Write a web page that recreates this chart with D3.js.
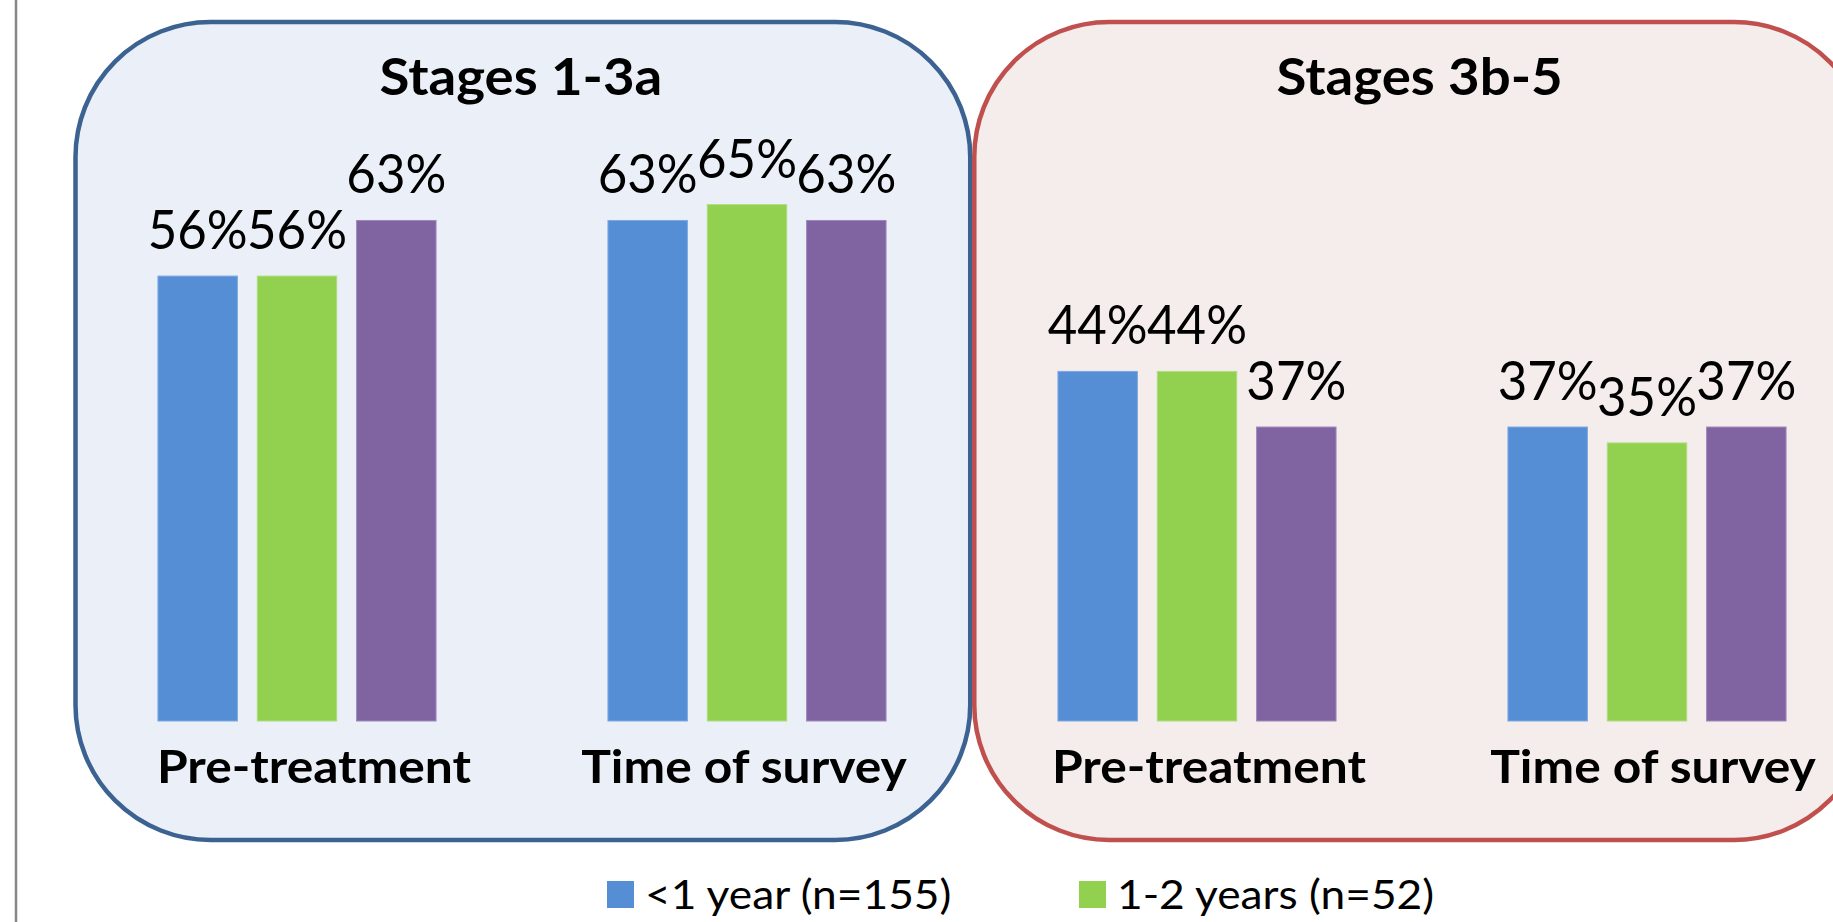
<!DOCTYPE html>
<html>
<head>
<meta charset="utf-8">
<script src="https://cdn.jsdelivr.net/npm/d3@7"></script>
<style>
  html, body { margin: 0; padding: 0; background: #ffffff; overflow: hidden; }
  svg { display: block; }
</style>
</head>
<body>
<svg id="chart" width="1833" height="922"></svg>
<script>
// Stage panels and the two time points inside each
const panels = ["Stages 1-3a", "Stages 3b-5"];
const periods = ["Pre-treatment", "Time of survey"];
const seriesKeys = ["s1", "s2", "s3"];
const legendLabels = ["<1 year (n=155)", "1-2 years (n=52)"];

// Percentages per series (s1, s2, s3)
const stages13aPre = [56, 56, 63];
const stages13aSurvey = [63, 65, 63];
const stages3b5Pre = [44, 44, 37];
const stages3b5Survey = [37, 35, 37];

const seriesColors = ["#558ED5", "#92D050", "#8064A2"];
const seriesEdges = ["#7EA9E0", "#B0DE82", "#9E88BC"];
const panelFill = ["#EBF0F8", "#F5ECEC"];
const panelStroke = ["#3B6291", "#C0504D"];
// Horizontal nudge of each group's caption relative to its bars
const captionShift = [17, -3, 12, 6];

const groups = [
  { panel: panels[0], period: periods[0], values: stages13aPre },
  { panel: panels[0], period: periods[1], values: stages13aSurvey },
  { panel: panels[1], period: periods[0], values: stages3b5Pre },
  { panel: panels[1], period: periods[1], values: stages3b5Survey }
];
groups.forEach((g, i) => { g.key = "g" + i; g.idx = i; });

const svg = d3.select("#chart");
const font = "Lato, 'Open Sans', sans-serif";

// Scales
const x0 = d3.scaleBand()
  .domain(groups.map(g => g.key))
  .range([72, 1872])
  .paddingInner(0.382)
  .paddingOuter(0.191);

const x1 = d3.scaleBand()
  .domain(seriesKeys)
  .range([0, x0.bandwidth()])
  .paddingInner(0.2)
  .paddingOuter(0);

const y = d3.scaleLinear().domain([0, 70]).range([721, 721 - 70 * 7.945]);

const panelScale = d3.scaleBand().domain(panels).range([75.5, 1869]).paddingInner(0.0045);

// Thin gray rule on the far left
svg.append("line")
  .attr("x1", 16).attr("x2", 16)
  .attr("y1", 0).attr("y2", 922)
  .attr("stroke", "#868686")
  .attr("stroke-width", 2.5);

// Rounded panel frames
svg.selectAll("rect.panel")
  .data(panels)
  .join("rect")
  .attr("class", "panel")
  .attr("x", d => panelScale(d))
  .attr("y", 22)
  .attr("width", panelScale.bandwidth())
  .attr("height", 818)
  .attr("rx", 135).attr("ry", 135)
  .attr("fill", (d, i) => panelFill[i])
  .attr("stroke", (d, i) => panelStroke[i])
  .attr("stroke-width", 4.5);

// Panel titles (slightly widened to a Calibri-like proportion)
svg.selectAll("text.panel-title")
  .data(panels)
  .join("text")
  .attr("class", "panel-title")
  .attr("transform", d => `translate(${panelScale(d) + panelScale.bandwidth() / 2 - 2},95) scale(1.05,1)`)
  .attr("text-anchor", "middle")
  .attr("font-family", font)
  .attr("font-weight", 700)
  .attr("font-size", 52)
  .attr("fill", "#000")
  .text(d => d);

// Bars
const gGroups = svg.selectAll("g.group")
  .data(groups)
  .join("g")
  .attr("class", "group")
  .attr("transform", d => `translate(${x0(d.key)},0)`);

gGroups.selectAll("rect.bar")
  .data(d => d.values.map((v, i) => ({ key: seriesKeys[i], v, i })))
  .join("rect")
  .attr("class", "bar")
  .attr("x", d => x1(d.key))
  .attr("y", d => y(d.v))
  .attr("width", x1.bandwidth())
  .attr("height", d => y(0) - y(d.v))
  .attr("fill", d => seriesColors[d.i])
  .attr("stroke", d => seriesEdges[d.i])
  .attr("stroke-width", 1);

// Value labels
gGroups.selectAll("text.value")
  .data(d => d.values.map((v, i) => ({ key: seriesKeys[i], v, i })))
  .join("text")
  .attr("class", "value")
  .attr("transform", d => `translate(${x1(d.key) + x1.bandwidth() / 2},${y(d.v) - 27}) scale(0.98,1.04)`)
  .attr("text-anchor", "middle")
  .attr("font-family", font)
  .attr("font-size", 52)
  .attr("fill", "#000")
  .text(d => d.v + "%");

// Category labels under each group
gGroups.append("text")
  .attr("transform", d => `translate(${x0.bandwidth() / 2 + captionShift[d.idx]},783) scale(1.07,1)`)
  .attr("text-anchor", "middle")
  .attr("font-family", font)
  .attr("font-weight", 700)
  .attr("font-size", 46.5)
  .attr("fill", "#000")
  .text(d => d.period);

// Legend
const legendX = d3.scalePoint().domain(legendLabels).range([607, 1079]);
const lg = svg.selectAll("g.legend")
  .data(legendLabels)
  .join("g")
  .attr("class", "legend")
  .attr("transform", d => `translate(${legendX(d)},881)`);

lg.append("rect")
  .attr("width", 27).attr("height", 27)
  .attr("fill", (d, i) => seriesColors[i]);

lg.append("text")
  .attr("transform", "translate(38,28) scale(1.08,1)")
  .attr("font-family", font)
  .attr("font-size", 41)
  .attr("fill", "#000")
  .text(d => d);
</script>
</body>
</html>
